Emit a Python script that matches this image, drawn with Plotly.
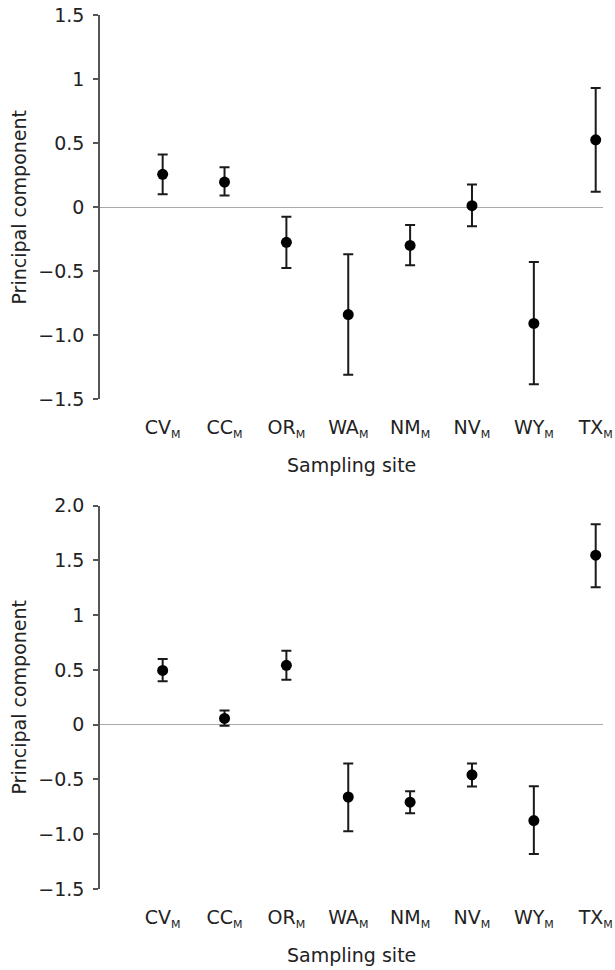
import plotly.graph_objects as go

sites = ["CV", "CC", "OR", "WA", "NM", "NV", "WY", "TX"]

# Top panel
top_mean = [0.255, 0.195, -0.276, -0.84, -0.30, 0.01, -0.91, 0.525]
top_upper = [0.41, 0.31, -0.076, -0.37, -0.14, 0.175, -0.43, 0.93]
top_lower = [0.10, 0.09, -0.477, -1.31, -0.455, -0.15, -1.385, 0.12]

# Bottom panel
bot_mean = [0.496, 0.058, 0.542, -0.66, -0.707, -0.457, -0.875, 1.548]
bot_upper = [0.60, 0.13, 0.676, -0.354, -0.607, -0.354, -0.561, 1.83]
bot_lower = [0.396, -0.01, 0.41, -0.973, -0.808, -0.564, -1.18, 1.255]

top_ticks = [-1.5, -1.0, -0.5, 0, 0.5, 1, 1.5]
top_ticktext = ["\u22121.5", "\u22121.0", "\u22120.5", "0", "0.5", "1", "1.5"]
bot_ticks = [-1.5, -1.0, -0.5, 0, 0.5, 1, 1.5, 2.0]
bot_ticktext = ["\u22121.5", "\u22121.0", "\u22120.5", "0", "0.5", "1", "1.5", "2.0"]

xlabels = [f"{s}<sub><span style='font-size:11px'>M</span></sub>" for s in sites]
xidx = list(range(len(sites)))

FONT = "DejaVu Sans"
FS = 19

# body margin removed via post_script, so the figure sits at (0, 0)
W, H = 615, 970


def px(x):
    return x / W


def py(y):
    return (H - y) / H


fig = go.Figure()


def add_panel(mean, upper, lower, xa, ya):
    fig.add_trace(go.Scatter(
        x=xidx, y=mean, mode="markers", xaxis=xa, yaxis=ya,
        marker=dict(color="black", size=11),
        error_y=dict(type="data", symmetric=False,
                     array=[u - m for u, m in zip(upper, mean)],
                     arrayminus=[m - l for m, l in zip(mean, lower)],
                     color="#1a1a1a", thickness=2, width=5),
        showlegend=False, hoverinfo="skip", cliponaxis=False))


add_panel(top_mean, top_upper, top_lower, "x", "y")
add_panel(bot_mean, bot_upper, bot_lower, "x2", "y2")

xdom = [px(100), px(603)]
xrange = [-1.013, 7.118]
common_x = dict(domain=xdom, range=xrange, tickvals=xidx, ticktext=xlabels,
                showgrid=False, zeroline=False, showline=False,
                ticks="outside", ticklen=11, tickcolor="rgba(0,0,0,0)",
                automargin=False, ticklabeloverflow="allow",
                tickfont=dict(family=FONT, size=FS, color="#222"))
common_y = dict(showgrid=False, zeroline=True, zerolinecolor="#aaaaaa",
                zerolinewidth=1.2, showline=True, linecolor="#555555",
                linewidth=1.5, ticks="outside", ticklen=5, tickwidth=1.5,
                tickcolor="#555555", ticklabelstandoff=5, automargin=False,
                ticklabeloverflow="allow",
                tickfont=dict(family=FONT, size=FS, color="#222"))

fig.update_layout(
    width=W, height=H,
    margin=dict(l=0, r=0, t=0, b=0),
    paper_bgcolor="white", plot_bgcolor="white",
    xaxis=dict(**common_x, anchor="y"),
    yaxis=dict(**common_y, domain=[py(399), py(15)],
               range=[-1.5, 1.5], tickvals=top_ticks, ticktext=top_ticktext,
               anchor="x"),
    xaxis2=dict(**common_x, anchor="y2"),
    yaxis2=dict(**common_y, domain=[py(889), py(505.7)],
                range=[-1.5, 2.0], tickvals=bot_ticks, ticktext=bot_ticktext,
                anchor="x2"),
)

annots = [
    dict(text="Sampling site", x=px(351.5), y=py(465)),
    dict(text="Sampling site", x=px(351.5), y=py(955)),
    dict(text="Principal component", x=px(18.5), y=py(207), textangle=-90),
    dict(text="Principal component", x=px(18.5), y=py(697), textangle=-90),
]
for a in annots:
    fig.add_annotation(xref="paper", yref="paper", showarrow=False,
                       xanchor="center", yanchor="middle",
                       font=dict(family=FONT, size=FS, color="#222"), **a)

fig.write_html("out.html",
               config={"displayModeBar": False},
               post_script="document.body.style.margin='0';"
                           "document.body.style.overflow='hidden';")
